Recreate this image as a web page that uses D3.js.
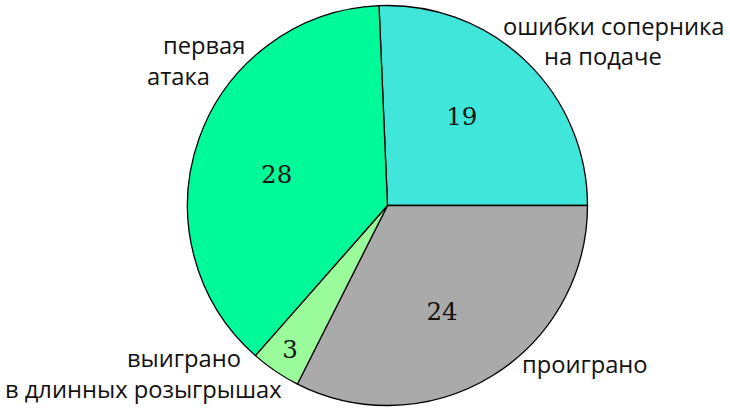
<!DOCTYPE html>
<html><head><meta charset="utf-8">
<script src="https://cdn.jsdelivr.net/npm/d3@7/dist/d3.min.js"></script>
<style>body{margin:0;background:#fff}svg{display:block}</style>
</head><body>
<svg id="c" width="730" height="413"></svg>
<script>
const categories = ["ошибки соперника на подаче", "проиграно", "выиграно в длинных розыгрышах", "первая атака"];
const values = [19, 24, 3, 28];
const colors = ["#40E6DA", "#AAAAAA", "#99FB99", "#00FA9A"];
const labelLines = [["ошибки соперника", "на подаче"], ["проиграно"], ["выиграно", "в длинных розыгрышах"], ["первая", "атака"]];

const svg = d3.select("#c");
const cx = 387.5, cy = 205.5, r = 200;
const g = svg.append("g").attr("transform", `translate(${cx},${cy})`);

const startOffset = -2.43 * Math.PI / 180;
const pie = d3.pie().sort(null).value(d => d)
  .startAngle(startOffset).endAngle(startOffset + 2 * Math.PI);
const arcs = pie(values);
const arc = d3.arc().innerRadius(0).outerRadius(r);

g.selectAll("path.slice").data(arcs).enter().append("path")
  .attr("class", "slice")
  .attr("d", arc)
  .attr("fill", (d, i) => colors[i])
  .attr("stroke", "#000")
  .attr("stroke-width", 1.3)
  .attr("stroke-linejoin", "round");

// value labels (placed along each slice's mid-angle, with small rotation tweaks)
const valRadius = [116, 119, 174, 115];
const valAngleTweak = [-4, 4.3, 0, -4];
g.selectAll("text.val").data(arcs).enter().append("text")
  .attr("class", "val")
  .attr("transform", (d, i) => {
    const a = (d.startAngle + d.endAngle) / 2 + valAngleTweak[i] * Math.PI / 180;
    const x = valRadius[i] * Math.sin(a), y = -valRadius[i] * Math.cos(a);
    return `translate(${x},${y})`;
  })
  .attr("text-anchor", "middle")
  .attr("dominant-baseline", "central")
  .attr("font-family", "'DejaVu Serif', 'Liberation Serif', serif")
  .attr("font-size", 24.5)
  .attr("fill", "#111")
  .text(d => d.data);

// category labels
const labelPos = [
  [[503, 35], [544, 65]],
  [[522, 373]],
  [[127, 367], [5, 398]],
  [[163, 54], [147, 85]]
];
labelLines.forEach((lines, i) => {
  lines.forEach((t, j) => {
    svg.append("text")
      .attr("x", labelPos[i][j][0])
      .attr("y", labelPos[i][j][1])
      .attr("font-family", "'Open Sans', sans-serif")
      .attr("font-size", 23.7)
      .attr("fill", "#111")
      .text(t);
  });
});
</script>
</body></html>
